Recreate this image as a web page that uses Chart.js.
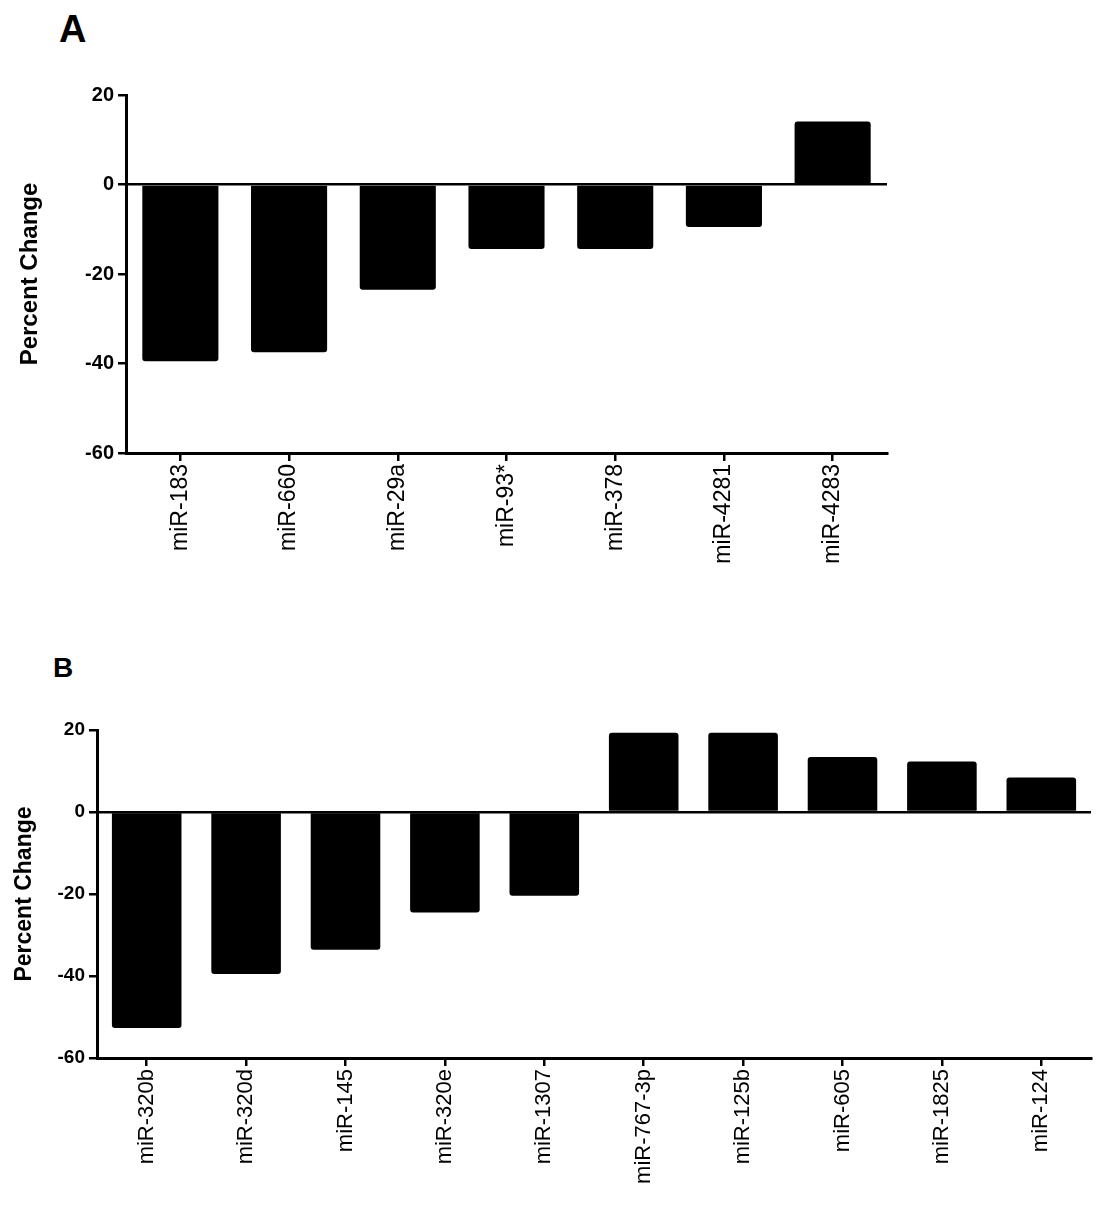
<!DOCTYPE html>
<html>
<head>
<meta charset="utf-8">
<script src="https://cdn.jsdelivr.net/npm/chart.js@4.4.0/dist/chart.umd.min.js"></script>
<style>
  body { margin:0; background:#fff; width:1099px; height:1206px; position:relative; overflow:hidden; font-family:"Liberation Sans", Arial, sans-serif; }
  .panel { position:absolute; font-weight:bold; line-height:1; color:#000; }
  #labelA { left:59px; top:10px; font-size:38px; }
  #labelB { left:53px; top:654px; font-size:28px; }
  .box { position:absolute; left:0; width:1099px; }
  #boxA { top:0; height:600px; }
  #boxB { top:600px; height:606px; }
</style>
</head>
<body>
<div class="panel" id="labelA">A</div>
<div class="panel" id="labelB">B</div>
<div class="box" id="boxA"><canvas id="chartA"></canvas></div>
<div class="box" id="boxB"><canvas id="chartB"></canvas></div>
<script>
// values (percent change)
const labelsA = ["miR-183", "miR-660", "miR-29a", "miR-93*", "miR-378", "miR-4281", "miR-4283"];
const valuesA = [-39.5, -37.5, -23.5, -14.4, -14.4, -9.5, 14.1];

const labelsB = ["miR-320b", "miR-320d", "miR-145", "miR-320e", "miR-1307", "miR-767-3p", "miR-125b", "miR-605", "miR-1825", "miR-124"];
const valuesB = [-52.7, -39.5, -33.6, -24.5, -20.4, 19.3, 19.3, 13.4, 12.3, 8.4];

const yTicks = [20, 0, -20, -40, -60];

const fontFam = '"Liberation Sans", Arial, sans-serif';

function drawPanel(id, labels, values, box) {
  const canvas = document.getElementById(id);
  const H = canvas.parentNode.clientHeight;
  new Chart(canvas, {
    type: "bar",
    data: {
      labels: labels,
      datasets: [{
        data: values,
        backgroundColor: "#000",
        borderRadius: 3,
        barPercentage: 0.7,
        categoryPercentage: 1
      }]
    },
    options: {
      responsive: true,
      maintainAspectRatio: false,
      animation: false,
      layout: { padding: { left: box.padLeft, top: box.top, right: 1099 - box.right, bottom: 0 } },
      plugins: { legend: { display: false }, tooltip: { enabled: false } },
      scales: {
        x: {
          grid: { offset: false, drawOnChartArea: false, color: "#000", lineWidth: 2.5, tickLength: 8 },
          border: { color: "#000", width: 3 },
          ticks: { color: "#000", font: { family: fontFam, size: box.labelSize }, minRotation: 90, maxRotation: 90, padding: 3, autoSkip: false },
          afterFit: s => { s.height = H - box.bottom; }
        },
        y: {
          min: -60,
          max: 20,
          afterBuildTicks: s => { s.ticks = yTicks.map(v => ({ value: v })); },
          grid: {
            color: c => (c.tick && c.tick.value === 0) ? "#000" : "rgba(0,0,0,0)",
            tickColor: "#000",
            lineWidth: 2.5,
            tickLength: 8
          },
          border: { color: "#000", width: 3 },
          ticks: { color: "#000", font: { family: fontFam, size: box.tickSize, weight: "bold" }, padding: 4 },
          title: { display: true, text: "Percent Change", color: "#000", font: { family: fontFam, size: box.titleSize, weight: "bold" } },
          afterFit: s => { s.width = box.left - box.padLeft; }
        }
      }
    }
  });
}

drawPanel("chartA", labelsA, valuesA, { left: 126, top: 95, right: 887, bottom: 453, padLeft: 12, tickSize: 20, titleSize: 24, labelSize: 23 });
drawPanel("chartB", labelsB, valuesB, { left: 97, top: 130, right: 1091, bottom: 458, padLeft: 7, tickSize: 19, titleSize: 23, labelSize: 22 });
</script>
</body>
</html>
